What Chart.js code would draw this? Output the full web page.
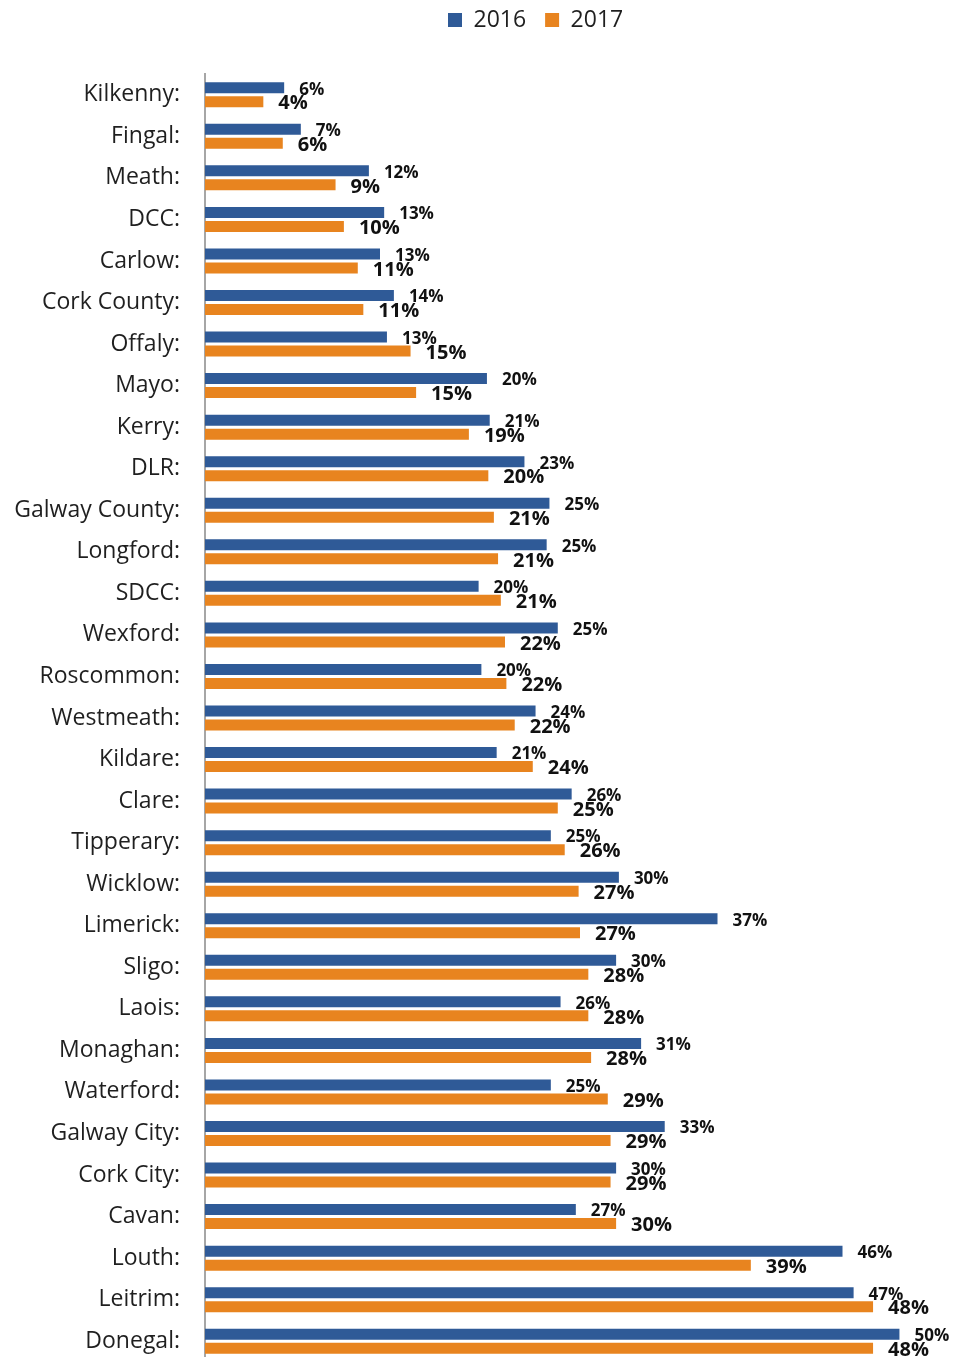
<!DOCTYPE html>
<html>
<head>
<meta charset="utf-8">
<script src="https://cdn.jsdelivr.net/npm/chart.js@4/dist/chart.umd.min.js"></script>
<style>
  html, body { margin: 0; padding: 0; background: #fff; overflow: hidden; }
  #wrap { width: 955px; height: 1362px; }
</style>
</head>
<body>
<div id="wrap"><canvas id="chart"></canvas></div>
<script>
// counties, top to bottom
const counties = ['Kilkenny:', 'Fingal:', 'Meath:', 'DCC:', 'Carlow:', 'Cork County:', 'Offaly:', 'Mayo:',
  'Kerry:', 'DLR:', 'Galway County:', 'Longford:', 'SDCC:', 'Wexford:', 'Roscommon:', 'Westmeath:',
  'Kildare:', 'Clare:', 'Tipperary:', 'Wicklow:', 'Limerick:', 'Sligo:', 'Laois:', 'Monaghan:',
  'Waterford:', 'Galway City:', 'Cork City:', 'Cavan:', 'Louth:', 'Leitrim:', 'Donegal:'];

// percentages
const values2016 = [5.7, 6.9, 11.8, 12.9, 12.6, 13.6, 13.1, 20.3, 20.5, 23.0, 24.8, 24.6, 19.7, 25.4, 19.9, 23.8,
  21.0, 26.4, 24.9, 29.8, 36.9, 29.6, 25.6, 31.4, 24.9, 33.1, 29.6, 26.7, 45.9, 46.7, 50.0];
const values2017 = [4.2, 5.6, 9.4, 10.0, 11.0, 11.4, 14.8, 15.2, 19.0, 20.4, 20.8, 21.1, 21.3, 21.6, 21.7, 22.3,
  23.6, 25.4, 25.9, 26.9, 27.0, 27.6, 27.6, 27.8, 29.0, 29.2, 29.2, 29.6, 39.3, 48.1, 48.1];

const seriesNames = ['2016', '2017'];

const FONT = '"Open Sans", "DejaVu Sans", sans-serif';
const labelSizes = [17, 20];

// value labels at the end of each bar
const barLabels = {
  id: 'barLabels',
  afterDatasetsDraw(chart) {
    const ctx = chart.ctx;
    ctx.save();
    ctx.fillStyle = '#111';
    ctx.textAlign = 'left';
    ctx.textBaseline = 'middle';
    chart.data.datasets.forEach((ds, i) => {
      ctx.font = 'bold ' + labelSizes[i] + 'px ' + FONT;
      chart.getDatasetMeta(i).data.forEach((bar, j) => {
        ctx.fillText(Math.round(ds.data[j]) + '%', bar.x + 15, bar.y + 2);
      });
    });
    ctx.restore();
  }
};

// legend: fixed height, nudged to where it sits in the original
const legendPlace = {
  id: 'legendPlace',
  beforeInit(chart) {
    const fit = chart.legend.fit;
    chart.legend.fit = function () {
      fit.call(this);
      this.height = 74;
    };
  },
  afterLayout(chart) {
    chart.legend.left = 429;
    chart.legend.top = -10.5;
  }
};

new Chart(document.getElementById('chart'), {
  type: 'bar',
  data: {
    labels: counties,
    datasets: [{
      label: seriesNames[0],
      data: values2016,
      backgroundColor: '#2F5A97',
      categoryPercentage: 0.674,
      barPercentage: 0.786
    }, {
      label: seriesNames[1],
      data: values2017,
      backgroundColor: '#E8841F',
      categoryPercentage: 0.674,
      barPercentage: 0.786
    }]
  },
  options: {
    indexAxis: 'y',
    responsive: true,
    maintainAspectRatio: false,
    animation: false,
    layout: { padding: 0 },
    scales: {
      x: {
        display: false,
        min: 0,
        max: 54
      },
      y: {
        grid: { display: false, drawTicks: false },
        border: { display: true, color: '#a6a6a6', width: 2 },
        ticks: {
          autoSkip: false,
          padding: 25,
          color: '#1f1f1f',
          font: { family: FONT, size: 23 }
        },
        afterFit(scale) {
          scale.width = 205;
          // no extra room above/below the first and last labels
          scale.paddingTop = 0;
          scale.paddingBottom = 0;
        }
      }
    },
    plugins: {
      legend: {
        position: 'top',
        align: 'start',
        labels: {
          boxWidth: 14,
          boxHeight: 14,
          padding: 19,
          color: '#1f1f1f',
          font: { family: FONT, size: 23 }
        }
      },
      tooltip: { enabled: false }
    }
  },
  plugins: [barLabels, legendPlace]
});
</script>
</body>
</html>
